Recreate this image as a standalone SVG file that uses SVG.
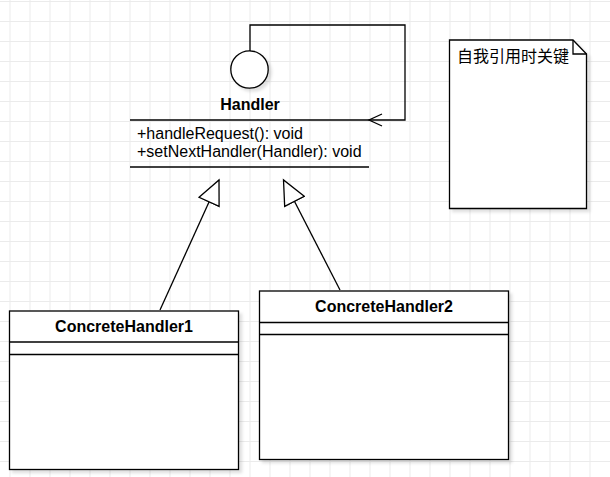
<svg xmlns="http://www.w3.org/2000/svg" width="610" height="477" viewBox="0 0 610 477">
<defs>
<style>
.grid line{stroke:#ebebeb;stroke-width:1}
.shape{fill:#fff;stroke:#000;stroke-width:1.3}
.ln{stroke:#000;stroke-width:1.3;fill:none}
.title{font-family:"Liberation Sans",Arial,sans-serif;font-size:16px;font-weight:bold;fill:#000;text-anchor:middle}
.txt{font-family:"Liberation Sans",Arial,sans-serif;font-size:16px;fill:#000}
.cjk{font-family:"Liberation Sans","Noto Sans CJK SC",sans-serif;font-size:16px;fill:#000}
</style>
<filter id="sh" x="-10%" y="-10%" width="130%" height="130%">
<feDropShadow dx="3" dy="3" stdDeviation="1.5" flood-color="#000" flood-opacity="0.12"/>
</filter>
<marker id="open" viewBox="0 0 16 14" refX="14" refY="7" markerWidth="16" markerHeight="14" markerUnits="userSpaceOnUse" orient="auto">
<path d="M1,1 L14,7 L1,13" fill="none" stroke="#000" stroke-width="1.3"/>
</marker>
<marker id="tri" viewBox="0 0 27 24" refX="25" refY="12" markerWidth="27" markerHeight="24" markerUnits="userSpaceOnUse" orient="auto">
<path d="M1,1 L25,12 L1,23 Z" fill="#fff" stroke="#000" stroke-width="1.3"/>
</marker>
</defs>
<rect width="610" height="477" fill="#fff"/>
<g class="grid">
<line x1="10" y1="0" x2="10" y2="477"/><line x1="30" y1="0" x2="30" y2="477"/><line x1="50" y1="0" x2="50" y2="477"/><line x1="70" y1="0" x2="70" y2="477"/><line x1="90" y1="0" x2="90" y2="477"/><line x1="110" y1="0" x2="110" y2="477"/><line x1="130" y1="0" x2="130" y2="477"/><line x1="150" y1="0" x2="150" y2="477"/><line x1="170" y1="0" x2="170" y2="477"/><line x1="190" y1="0" x2="190" y2="477"/><line x1="210" y1="0" x2="210" y2="477"/><line x1="230" y1="0" x2="230" y2="477"/><line x1="250" y1="0" x2="250" y2="477"/><line x1="270" y1="0" x2="270" y2="477"/><line x1="290" y1="0" x2="290" y2="477"/><line x1="310" y1="0" x2="310" y2="477"/><line x1="330" y1="0" x2="330" y2="477"/><line x1="350" y1="0" x2="350" y2="477"/><line x1="370" y1="0" x2="370" y2="477"/><line x1="390" y1="0" x2="390" y2="477"/><line x1="410" y1="0" x2="410" y2="477"/><line x1="430" y1="0" x2="430" y2="477"/><line x1="450" y1="0" x2="450" y2="477"/><line x1="470" y1="0" x2="470" y2="477"/><line x1="490" y1="0" x2="490" y2="477"/><line x1="510" y1="0" x2="510" y2="477"/><line x1="530" y1="0" x2="530" y2="477"/><line x1="550" y1="0" x2="550" y2="477"/><line x1="570" y1="0" x2="570" y2="477"/><line x1="590" y1="0" x2="590" y2="477"/>
<line x1="0" y1="1.5" x2="610" y2="1.5"/><line x1="0" y1="21.5" x2="610" y2="21.5"/><line x1="0" y1="41.5" x2="610" y2="41.5"/><line x1="0" y1="61.5" x2="610" y2="61.5"/><line x1="0" y1="81.5" x2="610" y2="81.5"/><line x1="0" y1="101.5" x2="610" y2="101.5"/><line x1="0" y1="121.5" x2="610" y2="121.5"/><line x1="0" y1="141.5" x2="610" y2="141.5"/><line x1="0" y1="161.5" x2="610" y2="161.5"/><line x1="0" y1="181.5" x2="610" y2="181.5"/><line x1="0" y1="201.5" x2="610" y2="201.5"/><line x1="0" y1="221.5" x2="610" y2="221.5"/><line x1="0" y1="241.5" x2="610" y2="241.5"/><line x1="0" y1="261.5" x2="610" y2="261.5"/><line x1="0" y1="281.5" x2="610" y2="281.5"/><line x1="0" y1="301.5" x2="610" y2="301.5"/><line x1="0" y1="321.5" x2="610" y2="321.5"/><line x1="0" y1="341.5" x2="610" y2="341.5"/><line x1="0" y1="361.5" x2="610" y2="361.5"/><line x1="0" y1="381.5" x2="610" y2="381.5"/><line x1="0" y1="401.5" x2="610" y2="401.5"/><line x1="0" y1="421.5" x2="610" y2="421.5"/><line x1="0" y1="441.5" x2="610" y2="441.5"/><line x1="0" y1="461.5" x2="610" y2="461.5"/>
</g>

<g id="handler">
<circle class="shape" cx="249.5" cy="69.5" r="18.7" filter="url(#sh)"/>
<text class="title" x="250" y="110">Handler</text>
<line class="ln" x1="130" y1="120" x2="369" y2="120"/>
<text class="txt" x="137" y="139">+handleRequest(): void</text>
<text class="txt" x="137" y="157">+setNextHandler(Handler): void</text>
<line class="ln" x1="130" y1="167" x2="369" y2="167"/>
</g>

<g id="note">
<path class="shape" d="M449.5,40 L573,40 L586.5,54 L586.5,208.5 L449.5,208.5 Z" filter="url(#sh)"/>
<path class="ln" d="M573,40 L573,54 L586.5,54"/>
<text class="cjk" x="457" y="62">自我引用时关键</text>
</g>

<g id="concrete1">
<rect class="shape" x="9.5" y="311" width="229" height="158.5" filter="url(#sh)"/>
<text class="title" x="124" y="332">ConcreteHandler1</text>
<line class="ln" x1="9.5" y1="342" x2="238.5" y2="342"/>
<line class="ln" x1="9.5" y1="354.5" x2="238.5" y2="354.5"/>
</g>

<g id="concrete2">
<rect class="shape" x="259.5" y="291" width="249" height="168.5" filter="url(#sh)"/>
<text class="title" x="384" y="312">ConcreteHandler2</text>
<line class="ln" x1="259.5" y1="322.5" x2="508.5" y2="322.5"/>
<line class="ln" x1="259.5" y1="334.5" x2="508.5" y2="334.5"/>
</g>

<g id="connectors">
<path class="ln" d="M250,51 L250,25 L405,25 L405,120 L369,120" marker-end="url(#open)"/>
<path class="ln" d="M160,310 L219,180" marker-end="url(#tri)"/>
<path class="ln" d="M340,290 L283.5,180" marker-end="url(#tri)"/>
</g>
</svg>
